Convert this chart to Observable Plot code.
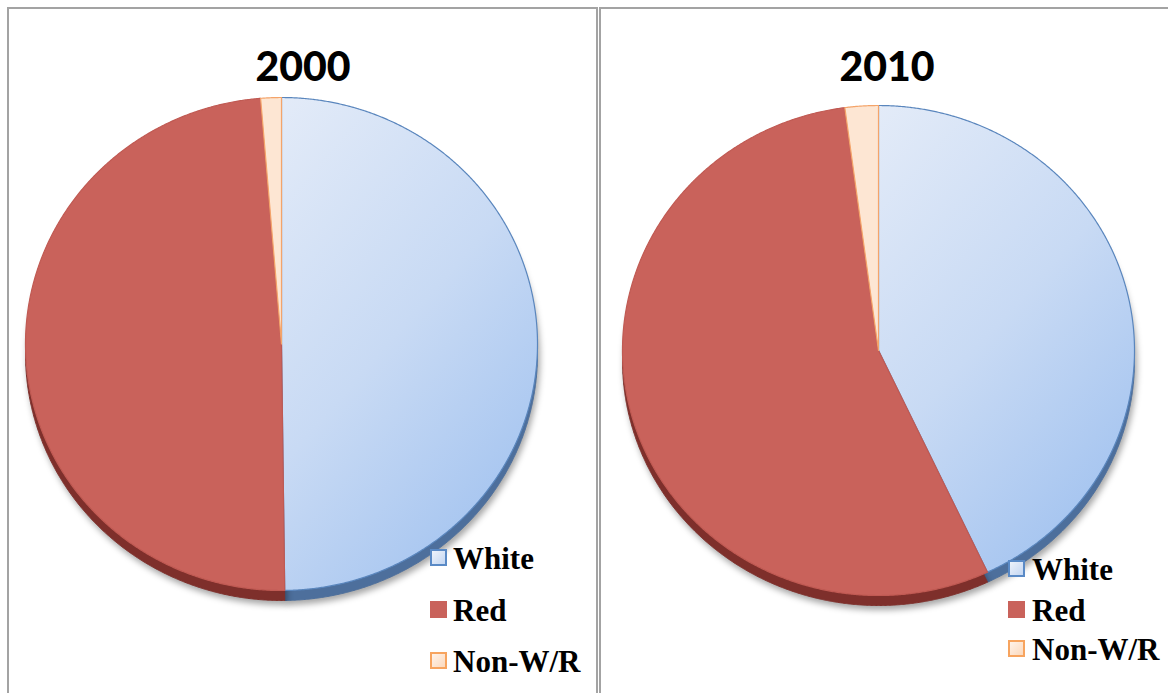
<!DOCTYPE html>
<html>
<head>
<meta charset="utf-8">
<script src="https://cdn.jsdelivr.net/npm/d3@7"></script>
<script src="https://cdn.jsdelivr.net/npm/@observablehq/plot@0.6"></script>
<style>
  html, body { margin: 0; padding: 0; background: #fff; }
  #page { position: relative; width: 1168px; height: 693px; overflow: hidden; background: #fff; }
  .panel { position: absolute; border: 2px solid #a3a3a3; box-sizing: border-box; }
  .title { position: absolute; font-family: Lato, "Open Sans", sans-serif; font-weight: 900; font-size: 41px; color: #000; transform: translateX(-50%); line-height: 1; }
  .pie { position: absolute; top: 0; }
  .legend-item { position: absolute; font-family: "Liberation Serif", "Times New Roman", serif; font-weight: 700; font-size: 31px; color: #000; line-height: 1; white-space: nowrap; }
  .sw { position: absolute; box-sizing: border-box; }
</style>
</head>
<body>
<div id="page"></div>
<script>
// ---- data ----
const categories = ["White", "Red", "Non-W/R"];
const years = ["2000", "2010"];
const share2000 = [49.8, 48.9, 1.3];
const share2010 = [43.0, 54.9, 2.1];

// ---- styles ----
const topFill = ["url(#gradWhite)", "#c9625b", "#fde6d3"];
const topStroke = ["#5a86bd", "#c05a53", "#f4a46a"];
const sideFill = ["#4d6f9c", "#7e2f2b", "#c9946a"];
const swatchFill = ["#d7e4f7", "#c9625b", "#fde6d3"];
const swatchStroke = ["#5a8ac6", "#c9625b", "#f7a45f"];

// layout per panel
const panels = [
  {year: years[0], values: share2000, left: 0, width: 600, xr: [25, 537], yr: [590, 97], depth: 10,
   box: {left: 7, top: 7, width: 591, height: 720}, titleX: 303, titleY: 45,
   legend: {x: 430, tx: 453, ys: [549, 601, 652], sw: 17}},
  {year: years[1], values: share2010, left: 600, width: 568, xr: [22, 534], yr: [595, 105], depth: 10,
   box: {left: 599, top: 7, width: 600, height: 720}, titleX: 887, titleY: 45,
   legend: {x: 1008, tx: 1032, ys: [560, 601, 640], sw: 17}}
];

const page = document.getElementById("page");

function slicePolys(values, dy) {
  const arcs = d3.pie().sort(null).value(d => d)(values);
  return arcs.map((a, i) => {
    const pts = [{x: 0, y: dy}];
    const n = Math.max(2, Math.ceil((a.endAngle - a.startAngle) / 0.005));
    for (let k = 0; k <= n; k++) {
      const t = a.startAngle + (a.endAngle - a.startAngle) * k / n;
      pts.push({x: Math.sin(t), y: Math.cos(t) + dy});
    }
    pts.push({x: 0, y: dy});
    return {cat: categories[i], pts};
  });
}

panels.forEach((p) => {
  const box = document.createElement("div");
  box.className = "panel";
  Object.assign(box.style, {left: p.box.left + "px", top: p.box.top + "px", width: p.box.width + "px", height: p.box.height + "px"});
  page.appendChild(box);

  const ry = Math.abs(p.yr[0] - p.yr[1]) / 2;
  const dyData = -p.depth / ry;
  const side = slicePolys(p.values, dyData);
  const top = slicePolys(p.values, 0);

  const marks = [];
  side.forEach((s, i) => marks.push(Plot.line(s.pts, {x: "x", y: "y", fill: sideFill[i], stroke: sideFill[i], strokeWidth: 1, ariaDescription: "side"})));
  top.forEach((s, i) => marks.push(Plot.line(s.pts, {x: "x", y: "y", fill: topFill[i], stroke: topStroke[i], strokeWidth: 1.2, strokeLinejoin: "round"})));

  const svg = Plot.plot({
    width: p.width, height: 693,
    margin: 0,
    x: {domain: [-1, 1], range: p.xr, axis: null},
    y: {domain: [-1, 1], range: p.yr, axis: null},
    style: {background: "transparent", overflow: "visible"},
    marks
  });
  const defs = d3.select(svg).insert("defs", ":first-child");
  const g = defs.append("linearGradient").attr("id", "gradWhite").attr("x1", "0").attr("y1", "0").attr("x2", "0.6").attr("y2", "1");
  g.append("stop").attr("offset", "0%").attr("stop-color", "#e3ebf8");
  g.append("stop").attr("offset", "55%").attr("stop-color", "#c8daf4");
  g.append("stop").attr("offset", "100%").attr("stop-color", "#a6c5f0");
  d3.select(svg).selectAll("[aria-description=side]").style("filter", "drop-shadow(2px 4px 3px rgba(0,0,0,0.35))");
  svg.classList.add("pie");
  svg.style.left = p.left + "px";
  page.appendChild(svg);

  const t = document.createElement("div");
  t.className = "title";
  t.textContent = p.year;
  t.style.left = p.titleX + "px";
  t.style.top = p.titleY + "px";
  page.appendChild(t);

  categories.forEach((c, i) => {
    const sw = document.createElement("div");
    sw.className = "sw";
    Object.assign(sw.style, {left: p.legend.x + "px", top: p.legend.ys[i] + "px", width: p.legend.sw + "px", height: p.legend.sw + "px",
      background: i === 0 ? "linear-gradient(135deg,#eef3fb,#c3d6f2)" : (i === 2 ? "linear-gradient(135deg,#fff3ea,#fbd9bd)" : swatchFill[i]),
      border: i === 1 ? "none" : "2px solid " + swatchStroke[i]});
    page.appendChild(sw);
    const lt = document.createElement("div");
    lt.className = "legend-item";
    lt.textContent = c;
    lt.style.left = p.legend.tx + "px";
    lt.style.top = (p.legend.ys[i] - 6) + "px";
    page.appendChild(lt);
  });
});
</script>
</body>
</html>
